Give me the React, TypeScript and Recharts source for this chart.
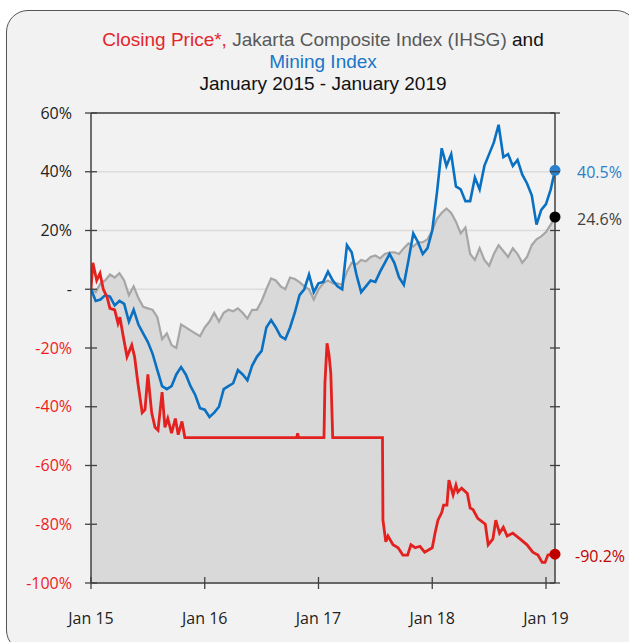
import React from "react";
import { ComposedChart, Line, Area, XAxis, YAxis, CartesianGrid, ReferenceLine, ReferenceDot } from "recharts";

const FONT = "'Open Sans', 'Noto Sans', sans-serif";
const TITLE_FONT = "'Liberation Sans', Arial, sans-serif";

// x = months since Jan 2015; index series sampled every half month, last point = end of Jan 2019
const END = 48.95;

// Jakarta Composite Index (IHSG), % change
const ihsg = [
  0, -1, 2, 3, 5, 4, 5.5, 3, -2, 1, -3, -6,
  -6.5, -7, -9.5, -17, -15, -19, -20, -12, -13, -14, -15, -16,
  -13, -11, -8, -11, -8, -7, -7.5, -6.5, -8, -10, -7, -7,
  -4, 0, 3.7, 3, 1, 0, 4, 3.5, 2.4, 1, 0, -3.5,
  0, 2, 3, 2, 2, 1.5, 6, 9, 8.5, 10, 9.5, 11,
  11.5, 10.5, 12, 12.5, 12.6, 12, 14, 15.6, 14.5, 16, 16, 17,
  20, 24, 26, 27.5, 26, 23, 19, 21, 12, 10, 14, 10,
  8, 12, 15, 13, 11, 14, 12, 9, 11, 15, 17, 18,
  19.5, 22, 24.6,
];

// Mining Index, % change
const mining = [
  0, -4, -3.5, -2, -2.5, -5.5, -4, -5, -11, -7, -12, -15,
  -18, -22, -27.5, -33, -34, -33, -29, -26.5, -29, -33, -36, -40.5,
  -41, -43.5, -42, -40, -34, -33, -32, -27.5, -29, -31, -26, -23,
  -21, -13, -10.5, -13, -16, -17, -13, -8, -2, 0, 5, -1,
  2, 2.5, 6, 3, 1, 0, 15, 12.6, 5, -1, 1, 3,
  2.5, 6, 9, 12, 9, 4, 1.5, 10, 19, 16, 12, 14,
  20, 33, 48, 42, 46, 35, 34, 30, 30, 38, 34, 42,
  46, 50, 56, 45, 46, 42, 44, 39, 36, 32, 22, 27,
  29, 34, 40.5,
];

// Closing price, % change (own time points for the steps and spikes)
const closeMonths = [
  0, 0.2, 0.6, 0.95, 1.3, 1.7, 2, 2.5, 2.85, 3.05, 3.4, 3.8, 4.3, 4.6, 4.95,
  5.4, 5.7, 6, 6.4, 6.75, 7.07, 7.5, 7.8, 8.1, 8.5, 8.9, 9.2, 9.6, 9.9,
  21.7, 21.8, 21.9, 24.58, 24.68, 24.9, 25.1, 25.3, 25.5, 30.75,
  30.8, 31.1, 31.33, 31.86, 32.4, 32.9, 33.4, 33.75, 34.2, 34.7, 35.2, 36,
  36.3, 36.6, 37, 37.2, 37.55, 37.76, 38.2, 38.5, 38.7, 39.1, 39.7, 40,
  40.3, 40.8, 41.6, 41.9, 42.4, 42.7, 43.1, 43.5, 43.9, 44.5, 45.25, 46,
  46.6, 47.15, 47.6, 47.9, 48.2, 48.95,
];
const closePrice = [
  0, 9, 3, 5.4, 0, -2.7, -6.5, -7, -11.6, -9.5, -16, -23, -19, -23, -32,
  -42, -41, -29, -42, -47, -48, -35, -47, -44, -49, -44, -49.5, -45, -50.5,
  -50.5, -49, -50.5, -50.5, -32, -18.4, -22, -28.6, -50.5, -50.5,
  -78.6, -86, -84, -87, -88, -90.5, -90.5, -87, -88, -87.5, -89.5, -88,
  -83, -78.6, -76, -73.5, -73.5, -65, -70, -66.7, -69, -67.7, -69.5, -74.5,
  -75, -78, -80, -87, -85, -78.6, -83, -81, -84, -83, -85, -87,
  -89.5, -90.5, -93, -93, -90.5, -90.2,
];

const xTicks = [0, 12, 24, 36, 48];
const xLabels = ["Jan 15", "Jan 16", "Jan 17", "Jan 18", "Jan 19"];
const yTicks = [-100, -80, -60, -40, -20, 0, 20, 40, 60];
const yLabels = ["-100%", "-80%", "-60%", "-40%", "-20%", "-", "20%", "40%", "60%"];

const indexData = ihsg.map((v, i) => ({ t: Math.min(i * 0.5, END), ihsg: v, mining: mining[i] }));
const closeData = closeMonths.map((t, i) => ({ t, close: closePrice[i] }));

const AXIS = "#404040";

function LeftTick({ x, y, payload }: any) {
  const i = yTicks.indexOf(payload.value);
  return (
    <g>
      <line x1={x - 6} x2={x + 6} y1={y} y2={y} stroke={AXIS} strokeWidth={1.3} />
      <text x={x - 19} y={y} dy="0.35em" textAnchor="end" fontSize={16} fontFamily={FONT}
        fill={payload.value < 0 ? "#f01c1c" : "#222"}>{yLabels[i]}</text>
    </g>
  );
}

function RightTick({ x, y }: any) {
  return <line x1={x - 5} x2={x + 5} y1={y} y2={y} stroke={AXIS} strokeWidth={1.3} />;
}

function BottomTick({ x, y, payload }: any) {
  const i = xTicks.indexOf(payload.value);
  return (
    <g>
      <line x1={x} x2={x} y1={y - 6} y2={y + 6} stroke={AXIS} strokeWidth={1.3} />
      <text x={x} y={y + 35} dy="0.35em" textAnchor="middle" fontSize={16} fontFamily={FONT} fill="#222">{xLabels[i]}</text>
    </g>
  );
}

const endDot = (fill: string, label: string, color: string, dx: number) => (p: any) => (
  <g>
    <circle cx={p.cx} cy={p.cy} r={5.5} fill={fill} />
    <text x={p.cx + dx} y={p.cy + 2} dy="0.35em" fontSize={16} fontFamily={FONT} fill={color}>{label}</text>
  </g>
);

const titleLine = (top: number): React.CSSProperties => ({
  position: "absolute", top, left: 71, width: 504, textAlign: "center",
  fontFamily: TITLE_FONT, fontSize: 19, lineHeight: "20px", whiteSpace: "nowrap",
});

export default function App() {
  const last = ihsg.length - 1;
  return (
    <div style={{ position: "absolute", left: 0, top: 0, width: 629, height: 642, overflow: "hidden", background: "#fff" }}>
      <div style={{ position: "absolute", left: 6, top: 10, width: 630, height: 640, border: "1px solid #555", borderRadius: 22, background: "#f2f2f2" }} />
      <div style={titleLine(30)}>
        <span style={{ color: "#e3262c" }}>Closing Price*,</span>{" "}
        <span style={{ color: "#595959" }}>Jakarta Composite Index (IHSG)</span>{" "}
        <span style={{ color: "#111" }}>and</span>
      </div>
      <div style={{ ...titleLine(52), color: "#1976c8" }}>Mining Index</div>
      <div style={{ ...titleLine(73.5), color: "#111" }}>January 2015 - January 2019</div>
      <div style={{ position: "absolute", left: 0, top: 0 }}>
        <ComposedChart width={629} height={642} margin={{ top: 113, right: 0, bottom: 0, left: 0 }}>
          <CartesianGrid horizontal vertical={false} stroke="#dcdcdc" strokeWidth={1.3} />
          <XAxis type="number" dataKey="t" domain={[0, END]} ticks={xTicks} height={59}
            axisLine={{ stroke: AXIS, strokeWidth: 1.5 }} tickLine={false} tickSize={0} tickMargin={0}
            tick={<BottomTick />} interval={0} allowDataOverflow />
          <YAxis domain={[-100, 60]} ticks={yTicks} width={91} axisLine={{ stroke: AXIS, strokeWidth: 1.5 }}
            tickLine={false} tickSize={0} tickMargin={0} tick={<LeftTick />} interval={0} allowDataOverflow />
          <YAxis yAxisId="r" orientation="right" domain={[-100, 60]} ticks={yTicks} width={74}
            axisLine={{ stroke: AXIS, strokeWidth: 1.5 }} tickLine={false} tickSize={0} tickMargin={0}
            tick={<RightTick />} interval={0} allowDataOverflow />
          <Area data={indexData} dataKey="ihsg" type="linear" stroke="#a6a6a6" strokeWidth={2.2}
            fill="#d9d9d9" fillOpacity={1} baseValue={-100} dot={false} activeDot={false} isAnimationActive={false} />
          <Line data={indexData} dataKey="mining" type="linear" stroke="#0a70c2" strokeWidth={2.6}
            dot={false} activeDot={false} isAnimationActive={false} />
          <Line data={closeData} dataKey="close" type="linear" stroke="#e3211f" strokeWidth={2.8}
            dot={false} activeDot={false} isAnimationActive={false} />
          <ReferenceLine y={60} stroke={AXIS} strokeWidth={1.5} />
          <ReferenceDot x={END} y={mining[last]} r={5.5} shape={endDot("#2a82cf", "40.5%", "#2a7fc8", 22)} />
          <ReferenceDot x={END} y={ihsg[last]} r={5.5} shape={endDot("#000", "24.6%", "#404040", 22)} />
          <ReferenceDot x={END} y={closePrice[closePrice.length - 1]} r={5.5} shape={endDot("#c00000", "-90.2%", "#c00000", 20)} />
        </ComposedChart>
      </div>
    </div>
  );
}
